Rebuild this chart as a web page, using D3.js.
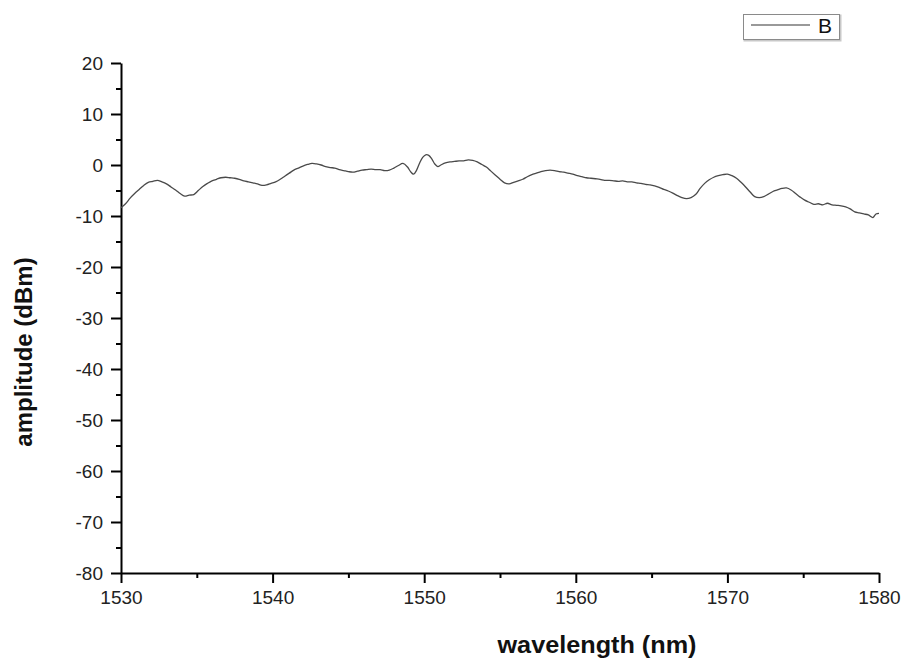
<!DOCTYPE html>
<html>
<head>
<meta charset="utf-8">
<script src="https://cdn.jsdelivr.net/npm/d3@7/dist/d3.min.js"></script>
<style>
  html, body { margin: 0; padding: 0; background: #fff; }
  svg { display: block; font-family: "Liberation Sans", Arial, sans-serif; }
</style>
</head>
<body>
<svg id="chart" width="906" height="662"></svg>
<script>
// ---- data ----
const wavelengths = [
  1530.0,1530.3,1530.6,1530.9,1531.2,1531.5,1531.8,1532.1,1532.4,1532.7,
  1533.0,1533.3,1533.6,1533.9,1534.2,1534.5,1534.8,1535.1,1535.4,1535.7,
  1536.0,1536.3,1536.6,1536.9,1537.2,1537.5,1537.8,1538.1,1538.4,1538.7,
  1539.0,1539.3,1539.6,1539.9,1540.2,1540.5,1540.8,1541.1,1541.4,1541.7,
  1542.0,1542.3,1542.6,1542.9,1543.2,1543.5,1543.8,1544.1,1544.4,1544.7,
  1545.0,1545.3,1545.6,1545.9,1546.2,1546.5,1546.8,1547.1,1547.4,1547.7,
  1548.0,1548.3,1548.6,1548.9,1549.1,1549.3,1549.5,1549.7,1549.9,1550.1,
  1550.3,1550.5,1550.7,1550.9,1551.1,1551.4,1551.7,1552.0,1552.3,1552.6,
  1552.9,1553.2,1553.5,1553.8,1554.1,1554.4,1554.7,1555.0,1555.3,1555.6,
  1555.9,1556.2,1556.5,1556.8,1557.1,1557.4,1557.7,1558.0,1558.3,1558.6,
  1558.9,1559.2,1559.5,1559.8,1560.1,1560.4,1560.7,1561.0,1561.3,1561.6,
  1561.9,1562.2,1562.5,1562.8,1563.1,1563.4,1563.7,1564.0,1564.3,1564.6,
  1564.9,1565.2,1565.5,1565.8,1566.1,1566.4,1566.7,1567.0,1567.3,1567.6,
  1567.9,1568.2,1568.5,1568.8,1569.1,1569.4,1569.7,1570.0,1570.3,1570.6,
  1570.9,1571.2,1571.5,1571.8,1572.1,1572.4,1572.7,1573.0,1573.3,1573.6,
  1573.9,1574.2,1574.5,1574.8,1575.1,1575.4,1575.7,1576.0,1576.3,1576.6,
  1576.9,1577.2,1577.5,1577.8,1578.1,1578.4,1578.7,1579.0,1579.3,1579.6,
  1579.8,1580.0
];
const amplitudeB = [
  -8.4,-7.6,-6.5,-5.6,-4.8,-4.0,-3.4,-3.2,-3.0,-3.3,
  -3.7,-4.3,-4.9,-5.6,-6.1,-5.9,-5.8,-5.0,-4.2,-3.6,
  -3.1,-2.8,-2.5,-2.4,-2.5,-2.6,-2.8,-3.1,-3.3,-3.5,
  -3.7,-4.0,-3.9,-3.6,-3.3,-2.8,-2.2,-1.6,-1.0,-0.6,
  -0.2,0.1,0.3,0.2,0.0,-0.3,-0.5,-0.6,-0.9,-1.1,
  -1.3,-1.4,-1.2,-1.0,-0.9,-0.8,-0.9,-0.9,-1.1,-1.0,
  -0.6,-0.1,0.3,-0.4,-1.3,-1.8,-1.0,0.4,1.5,2.0,
  1.9,1.2,0.2,-0.3,0.0,0.4,0.6,0.7,0.8,0.8,
  1.0,0.9,0.6,0.1,-0.4,-1.2,-2.0,-2.8,-3.5,-3.7,
  -3.4,-3.1,-2.8,-2.3,-1.9,-1.6,-1.3,-1.1,-1.0,-1.1,
  -1.3,-1.4,-1.6,-1.8,-2.1,-2.3,-2.5,-2.6,-2.7,-2.8,
  -3.0,-3.0,-3.1,-3.2,-3.1,-3.3,-3.3,-3.5,-3.6,-3.8,
  -3.9,-4.1,-4.4,-4.8,-5.1,-5.5,-6.0,-6.4,-6.6,-6.4,
  -5.8,-4.6,-3.6,-2.9,-2.4,-2.1,-1.9,-1.8,-2.1,-2.6,
  -3.4,-4.3,-5.3,-6.2,-6.4,-6.2,-5.7,-5.2,-4.9,-4.6,
  -4.5,-4.9,-5.6,-6.3,-6.9,-7.3,-7.7,-7.6,-7.8,-7.5,
  -7.8,-7.9,-8.0,-8.2,-8.6,-9.2,-9.4,-9.6,-9.8,-10.3,
  -9.6,-9.5
];
const seriesName = "B";
const xMajorTicks = [1530, 1540, 1550, 1560, 1570, 1580];
const xMinorTicks = [1535, 1545, 1555, 1565, 1575];
const yMajorTicks = [20, 10, 0, -10, -20, -30, -40, -50, -60, -70, -80];
const yMinorTicks = [15, 5, -5, -15, -25, -35, -45, -55, -65, -75];
const xTitle = "wavelength (nm)";
const yTitle = "amplitude (dBm)";

// ---- layout ----
const svg = d3.select("#chart");
const mLeft = 121, mRight = 879, mTop = 63, mBottom = 573;

const x = d3.scaleLinear().domain([1530, 1580]).range([mLeft, mRight]);
const y = d3.scaleLinear().domain([-80, 20]).range([mBottom, mTop]);

const tickFont = "19px";
const plainFmt = d => String(d);

// minor ticks
svg.append("g").attr("transform", `translate(0,${mBottom})`)
  .call(d3.axisBottom(x).tickValues(xMinorTicks).tickSize(5).tickFormat(""))
  .call(g => g.select(".domain").remove())
  .call(g => g.selectAll("line").attr("stroke", "#000").attr("stroke-width", 2));
svg.append("g").attr("transform", `translate(${mLeft},0)`)
  .call(d3.axisLeft(y).tickValues(yMinorTicks).tickSize(5).tickFormat(""))
  .call(g => g.select(".domain").remove())
  .call(g => g.selectAll("line").attr("stroke", "#000").attr("stroke-width", 2));

// major axes
const xAxis = svg.append("g").attr("transform", `translate(0,${mBottom})`)
  .call(d3.axisBottom(x).tickValues(xMajorTicks).tickSize(10).tickSizeOuter(0).tickPadding(8).tickFormat(plainFmt));
const yAxis = svg.append("g").attr("transform", `translate(${mLeft},0)`)
  .call(d3.axisLeft(y).tickValues(yMajorTicks).tickSize(10).tickSizeOuter(0).tickPadding(8).tickFormat(plainFmt));

[xAxis, yAxis].forEach(g => {
  g.select(".domain").attr("stroke", "#000").attr("stroke-width", 2);
  g.selectAll(".tick line").attr("stroke", "#000").attr("stroke-width", 2);
  g.selectAll(".tick text").attr("fill", "#222")
    .style("font-size", tickFont).style("font-family", "'Liberation Sans', Arial, sans-serif");
});

// ---- data line ----
const pts = wavelengths.map((w, i) => [w, amplitudeB[i]]);
svg.append("path")
  .datum(pts)
  .attr("fill", "none")
  .attr("stroke", "#4a4a4a")
  .attr("stroke-width", 1.3)
  .attr("d", d3.line().x(d => x(d[0])).y(d => y(d[1])).curve(d3.curveCatmullRom));

// ---- titles ----
svg.append("text")
  .attr("x", 597).attr("y", 653)
  .attr("text-anchor", "middle")
  .style("font-size", "24px").style("font-weight", "bold").attr("fill", "#111")
  .attr("textLength", 199).attr("lengthAdjust", "spacingAndGlyphs")
  .text(xTitle);
svg.append("text")
  .attr("transform", `translate(32,352) rotate(-90)`)
  .attr("text-anchor", "middle")
  .style("font-size", "24px").style("font-weight", "bold").attr("fill", "#111")
  .text(yTitle);

// ---- legend ----
const lg = svg.append("g");
lg.append("rect").attr("x", 744.5).attr("y", 15.5).attr("width", 96).attr("height", 25)
  .attr("fill", "none").attr("stroke", "#c8c8c8").attr("stroke-width", 2);
lg.append("rect").attr("x", 743.5).attr("y", 14.5).attr("width", 96).attr("height", 25)
  .attr("fill", "#fff").attr("stroke", "#8a8a8a").attr("stroke-width", 1);
lg.append("line").attr("x1", 751).attr("x2", 810).attr("y1", 25).attr("y2", 25)
  .attr("stroke", "#777").attr("stroke-width", 1.5);
lg.append("text").attr("x", 818).attr("y", 33)
  .style("font-size", "21px").attr("fill", "#111").text(seriesName);
</script>
</body>
</html>
